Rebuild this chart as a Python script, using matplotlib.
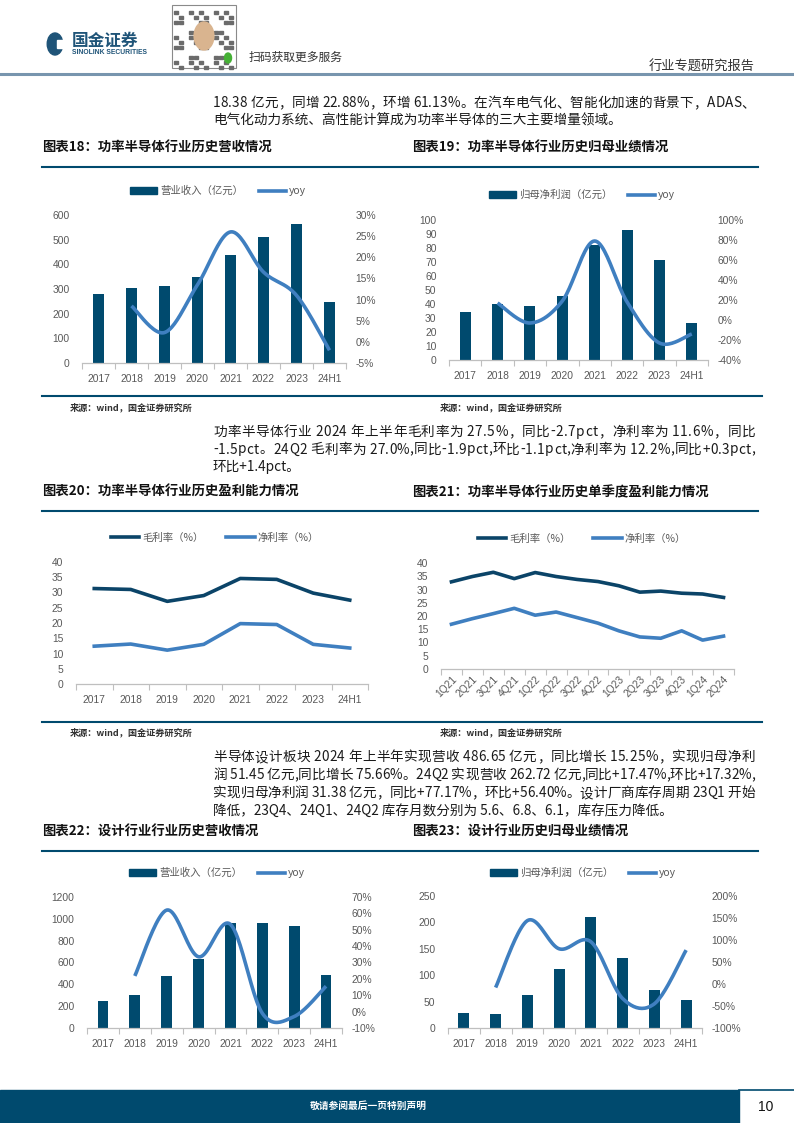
import numpy as np
import matplotlib
matplotlib.use('Agg')
import matplotlib.pyplot as plt
from matplotlib.patches import Rectangle, Circle
from matplotlib.lines import Line2D

plt.rcParams['font.family'] = ['Noto Sans CJK SC', 'DejaVu Sans']

W, H = 794, 1123
NAVY = '#004a6e'
BLUE = '#3f7fc0'
GRAY = '#595959'

years = ['2017', '2018', '2019', '2020', '2021', '2022', '2023', '24H1']
quarters = ['1Q21', '2Q21', '3Q21', '4Q21', '1Q22', '2Q22', '3Q22', '4Q22',
            '1Q23', '2Q23', '3Q23', '4Q23', '1Q24', '2Q24']

# fig 18: power semis revenue (100m CNY) and yoy (%)
power_rev = [280, 304, 312, 349, 438, 511, 563, 247]
power_rev_yoy = [None, 8.5, 2.2, 13.5, 26.0, 16.5, 11.0, -2.0]
# fig 19: power semis net profit and yoy
power_np = [34.5, 40.2, 38.6, 46.0, 82.0, 93.0, 71.4, 26.4]
power_np_yoy = [None, 17, -3, 19, 79, 18, -23, -14]
# fig 20: annual margins (%)
gross_y = [31.3, 31.0, 27.1, 29.0, 34.6, 34.3, 29.8, 27.5]
net_y = [12.4, 13.1, 11.1, 13.0, 19.8, 19.5, 13.0, 11.8]
# fig 21: quarterly margins (%)
gross_q = [32.9, 34.9, 36.5, 34.1, 36.4, 34.9, 33.8, 33.0, 31.4, 29.0, 29.4, 28.6, 28.3, 27.0]
net_q = [16.9, 19.0, 20.9, 22.9, 20.3, 21.5, 19.4, 17.3, 14.4, 12.1, 11.6, 14.4, 10.9, 12.4]
# fig 22: design revenue and yoy
design_rev = [249, 304, 477, 632, 960, 960, 933, 487]
design_rev_yoy = [None, 21.8, 62.0, 33.5, 53.3, -1.0, -3.0, 15.5]
# fig 23: design net profit and yoy
design_np = [27.8, 25.9, 62.0, 111.0, 210.0, 132.0, 71.5, 52.5]
design_np_yoy = [None, -8, 144, 80, 96, -33, -45, 77]

para1 = ['18.38 亿元，同增 22.88%，环增 61.13%。在汽车电气化、智能化加速的背景下，ADAS、',
         '电气化动力系统、高性能计算成为功率半导体的三大主要增量领域。']
para2 = ['功率半导体行业 2024 年上半年毛利率为 27.5%，同比-2.7pct，净利率为 11.6%，同比',
         '-1.5pct。24Q2 毛利率为 27.0%,同比-1.9pct,环比-1.1pct,净利率为 12.2%,同比+0.3pct,',
         '环比+1.4pct。']
para3 = ['半导体设计板块 2024 年上半年实现营收 486.65 亿元，同比增长 15.25%，实现归母净利',
         '润 51.45 亿元,同比增长 75.66%。24Q2 实现营收 262.72 亿元,同比+17.47%,环比+17.32%,',
         '实现归母净利润 31.38 亿元，同比+77.17%，环比+56.40%。设计厂商库存周期 23Q1 开始',
         '降低，23Q4、24Q1、24Q2 库存月数分别为 5.6、6.8、6.1，库存压力降低。']

fig = plt.figure(figsize=(W / 100, H / 100), dpi=100)
renderer = fig.canvas.get_renderer()


def fx(x):
    return x / W


def fy(y):
    return 1 - y / H


def text(x, y, s, **kw):
    kw.setdefault('va', 'center')
    return fig.text(fx(x), fy(y), s, **kw)


def width_of(s, **kw):
    t = fig.text(0, 0, s, **kw)
    w = t.get_window_extent(renderer).width
    t.remove()
    return w


def paragraph(lines, x0, x1, y0, dy, **kw):
    # full lines are spread to the column width, the last one is left as is
    space = width_of('x x', **kw) - width_of('xx', **kw)
    for k, line in enumerate(lines):
        y = y0 + k * dy
        if k == len(lines) - 1:
            text(x0, y, line, **kw)
            continue
        ws = [space if ch == ' ' else width_of(ch, **kw) for ch in line]
        gap = (x1 - x0 - sum(ws)) / (len(line) - 1)
        x = x0
        for ch, w in zip(line, ws):
            if ch != ' ':
                text(x, y, ch, **kw)
            x += w + gap


def hline(x0, x1, y, color=NAVY, lw=1.5):
    fig.add_artist(Line2D([fx(x0), fx(x1)], [fy(y), fy(y)], color=color, lw=lw))


def new_axes(x0, y0, x1, y1):
    return fig.add_axes([fx(x0), fy(y1), (x1 - x0) / W, (y1 - y0) / H])


def smooth(xs, ys, n=24):
    # Catmull-Rom curve through the points, like the "smoothed line" option
    p = np.column_stack([xs, ys]).astype(float)
    out = []
    for i in range(len(p) - 1):
        p0 = p[max(i - 1, 0)]
        p1, p2 = p[i], p[i + 1]
        p3 = p[min(i + 2, len(p) - 1)]
        t = np.linspace(0, 1, n)[:, None]
        seg = 0.5 * (2 * p1 + (-p0 + p2) * t + (2 * p0 - 5 * p1 + 4 * p2 - p3) * t ** 2
                     + (-p0 + 3 * p1 - 3 * p2 + p3) * t ** 3)
        out.append(seg if i == 0 else seg[1:])
    out = np.vstack(out)
    return out[:, 0], out[:, 1]


def style_axes(ax, ncat):
    for s in ['top', 'left', 'right']:
        ax.spines[s].set_visible(False)
    ax.spines['bottom'].set_color('#bfbfbf')
    ax.spines['bottom'].set_linewidth(0.9)
    ax.set_xlim(-0.5, ncat - 0.5)
    ax.set_xticks(np.arange(ncat))
    ax.set_xticks(np.arange(ncat + 1) - 0.5, minor=True)
    ax.tick_params(axis='x', which='major', length=0, pad=8, labelsize=7.4, colors=GRAY)
    ax.tick_params(axis='x', which='minor', length=4, color='#bfbfbf', width=0.8)
    ax.tick_params(axis='y', length=0, labelsize=7.4, colors=GRAY, pad=9)
    for lab in ax.get_xticklabels() + ax.get_yticklabels():
        lab.set_family(['Liberation Sans', 'DejaVu Sans'])


def bar_line_chart(box, bars, yoy, ylim, yticks, rlim, rticks, bar_label, legend_xy):
    ax = new_axes(*box)
    x = np.arange(len(years))
    ax.bar(x, bars, width=0.34, color=NAVY, zorder=2)
    ax.set_ylim(*ylim)
    ax.set_yticks(yticks)
    style_axes(ax, len(years))
    ax.set_xticklabels(years)
    ax2 = ax.twinx()
    xs = [i for i, v in enumerate(yoy) if v is not None]
    ys = [v for v in yoy if v is not None]
    sx, sy = smooth(xs, ys)
    ax2.plot(sx, sy, color=BLUE, lw=2.6, solid_capstyle='butt', zorder=3)
    ax2.set_ylim(*rlim)
    ax2.set_yticks(rticks)
    ax2.set_yticklabels(['%d%%' % t for t in rticks])
    for s in ['top', 'left', 'right', 'bottom']:
        ax2.spines[s].set_visible(False)
    ax2.tick_params(axis='y', length=0, labelsize=7.4, colors=GRAY, pad=7)
    for lab in ax2.get_yticklabels():
        lab.set_family(['Liberation Sans', 'DejaVu Sans'])
    handles = [Rectangle((0, 0), 1, 1, color=NAVY), Line2D([], [], color=BLUE, lw=2.6)]
    ax2.legend(handles, [bar_label, 'yoy'], loc='center', ncol=2, frameon=False,
               bbox_to_anchor=(fx(legend_xy[0]), fy(legend_xy[1])),
               bbox_transform=fig.transFigure, fontsize=7.5, labelcolor=GRAY,
               handlelength=2.6, handleheight=0.6, handletextpad=0.3, columnspacing=1.5)


def margin_chart(box, labels, gross, net, legend_xy, rotate=False):
    ax = new_axes(*box)
    x = np.arange(len(labels))
    ax.plot(x, gross, color='#0b4468', lw=2.6, label='毛利率（%）')
    ax.plot(x, net, color=BLUE, lw=2.6, label='净利率（%）')
    ax.set_ylim(0, 40)
    ax.set_yticks(range(0, 45, 5))
    style_axes(ax, len(labels))
    if rotate:
        ax.set_xticklabels(labels, rotation=45, ha='right', rotation_mode='anchor')
        ax.tick_params(axis='x', which='major', pad=4)
    else:
        ax.set_xticklabels(labels)
    for lab in ax.get_xticklabels():
        lab.set_family(['Liberation Sans', 'DejaVu Sans'])
    ax.legend(loc='center', ncol=2, frameon=False,
              bbox_to_anchor=(fx(legend_xy[0]), fy(legend_xy[1])),
              bbox_transform=fig.transFigure, fontsize=7.5, labelcolor=GRAY,
              handlelength=2.7, handletextpad=0.3, columnspacing=2.2)


# ---- header ----
fig.add_artist(Circle((fx(55), fy(44)), 11 / H, color='#1f5478',
                      transform=fig.transFigure))
fig.add_artist(Rectangle((fx(57), fy(48)), 10 / W, 8 / H, color='white',
                         transform=fig.transFigure))
text(72, 41, '国金证券', fontsize=12, weight='bold', color='#1f5478')
text(72, 53, 'SINOLINK SECURITIES', fontsize=4.9, weight='bold', color='#1f5478',
     family=['Liberation Sans', 'DejaVu Sans'])
# qr code placeholder
fig.add_artist(Rectangle((fx(172), fy(68)), 64 / W, 63 / H, facecolor='white',
                         edgecolor='#8a8a8a', lw=0.8, transform=fig.transFigure))
for i in range(12):
    for j in range(12):
        if (i * 7 + j * 3 + i * j) % 5 < 2:
            fig.add_artist(Rectangle((fx(174 + i * 5), fy(10 + j * 5 + 4)), 3.5 / W, 3.5 / H,
                                     color='#6b6b6b', transform=fig.transFigure))
fig.add_artist(Circle((fx(204), fy(36)), 14 / H, color='#d9b48f', transform=fig.transFigure))
fig.add_artist(Circle((fx(228), fy(58)), 5 / H, color='#45b035', transform=fig.transFigure))
text(249, 57, '扫码获取更多服务', fontsize=8.5, color='#333333')
text(755, 67, '行业专题研究报告', fontsize=9.5, color='#333333', ha='right')
hline(0, W, 74, color='#7895ae', lw=2.2)

# ---- body text ----
body = dict(fontsize=9.8, color='#1a1a1a')
paragraph(para1, 213, 755, 103, 18, **body)
paragraph(para2, 213, 755, 432, 17.5, **body)
paragraph(para3, 213, 755, 757, 18, **body)

# ---- titles, rules, sources ----
title = dict(fontsize=9.6, weight='bold', color='#111111')
text(42, 148, '图表18：功率半导体行业历史营收情况', **title)
text(412, 148, '图表19：功率半导体行业历史归母业绩情况', **title)
text(42, 492, '图表20：功率半导体行业历史盈利能力情况', **title)
text(412, 492, '图表21：功率半导体行业历史单季度盈利能力情况', **title)
text(42, 832, '图表22：设计行业行业历史营收情况', **title)
text(412, 832, '图表23：设计行业历史归母业绩情况', **title)
for y in [167, 511, 851]:
    hline(42, 758, y)
for y in [396, 722]:
    hline(42, 762, y)
src = dict(fontsize=6.6, color='#333333', weight='bold')
for y in [407, 732]:
    text(70, y, '来源：wind，国金证券研究所', **src)
    text(440, y, '来源：wind，国金证券研究所', **src)

# ---- charts ----
bar_line_chart((82, 215, 346, 363), power_rev, power_rev_yoy, (0, 600), range(0, 700, 100),
               (-5, 30), range(-5, 35, 5), '营业收入（亿元）', (218, 191))
bar_line_chart((449, 220, 708, 360), power_np, power_np_yoy, (0, 100), range(0, 110, 10),
               (-40, 100), range(-40, 120, 20), '归母净利润（亿元）', (582, 195))
margin_chart((76, 562, 368, 684), years, gross_y, net_y, (215, 538))
margin_chart((441, 563, 734, 669), quarters, gross_q, net_q, (582, 539), rotate=True)
bar_line_chart((87, 897, 342, 1028), design_rev, design_rev_yoy, (0, 1200), range(0, 1400, 200),
               (-10, 70), range(-10, 80, 10), '营业收入（亿元）', (217, 873))
bar_line_chart((448, 896, 702, 1028), design_np, design_np_yoy, (0, 250), range(0, 300, 50),
               (-100, 200), range(-100, 250, 50), '归母净利润（亿元）', (583, 873))

# ---- footer ----
fig.add_artist(Rectangle((0, 0), fx(739), 33 / H, color=NAVY, transform=fig.transFigure))
hline(739, W, 1090, color=NAVY, lw=1.2)
text(368, 1106, '敬请参阅最后一页特别声明', fontsize=7, color='white', ha='center', weight='bold')
text(766, 1107, '10', fontsize=10, color='#111111', ha='center',
     family=['Liberation Sans Narrow', 'Liberation Sans', 'DejaVu Sans'])

fig.savefig('out.png', dpi=100)
